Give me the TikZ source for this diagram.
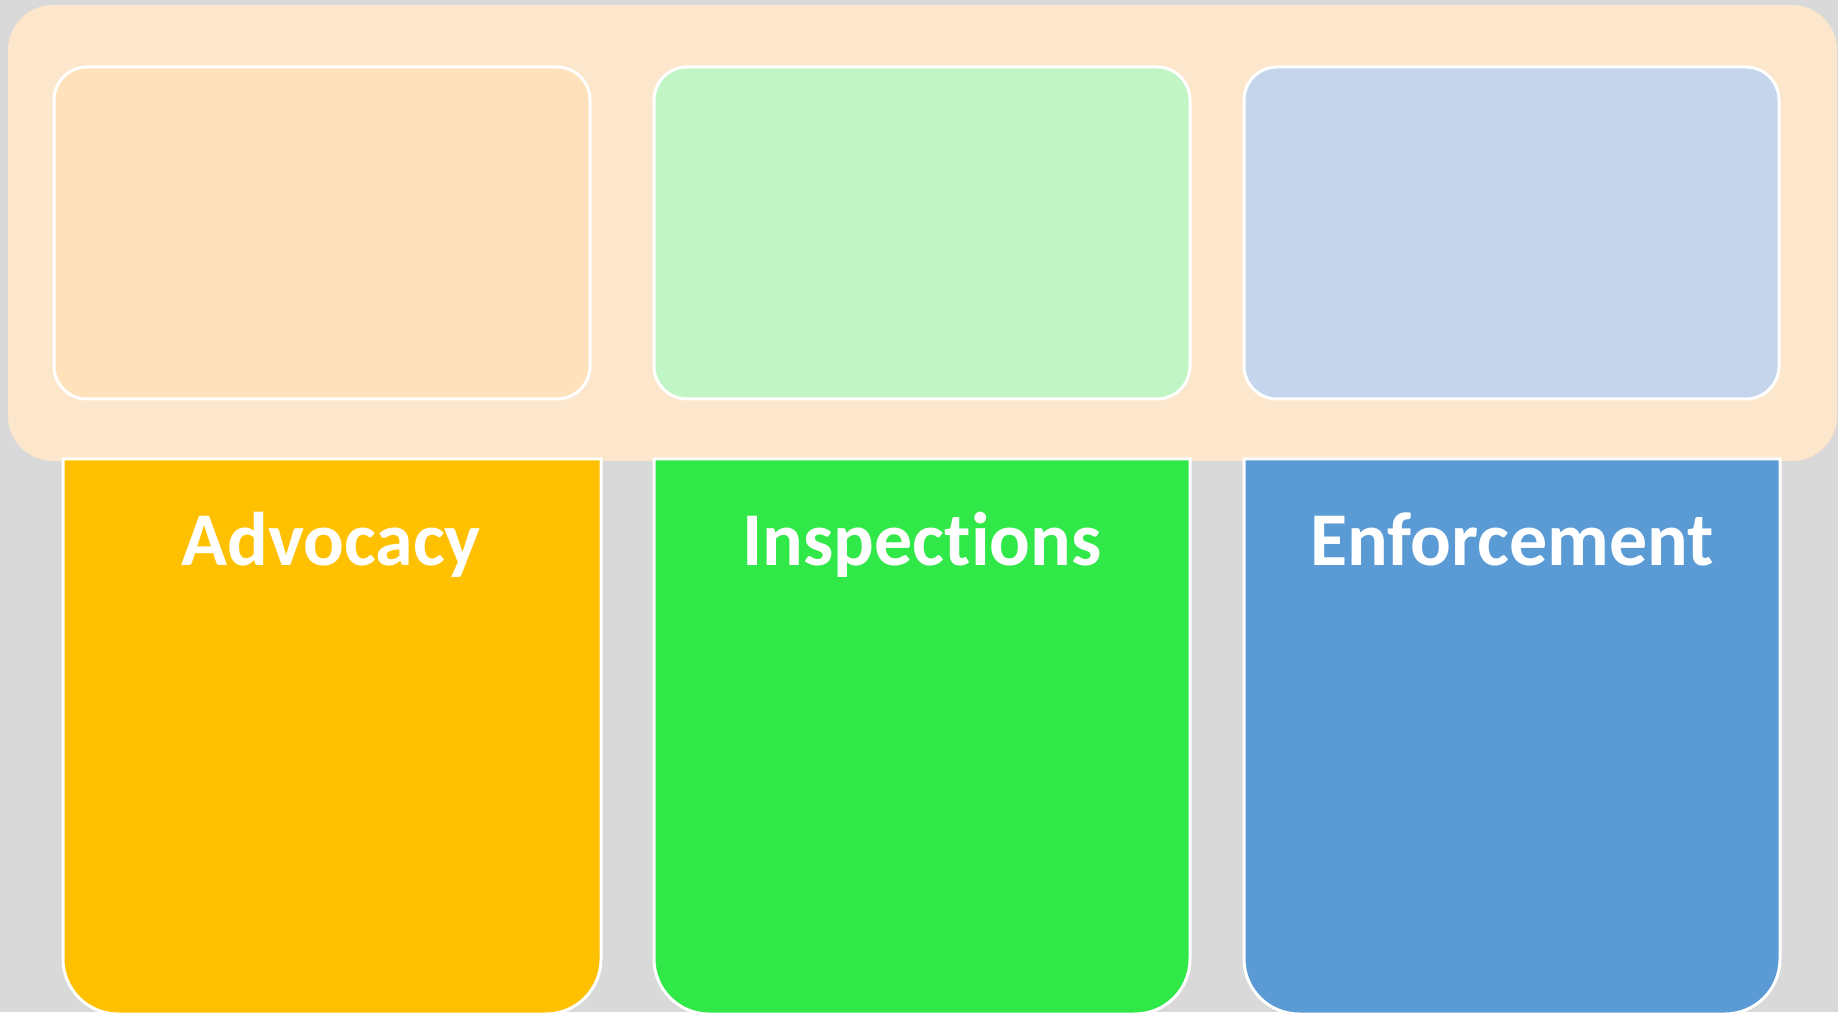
\documentclass[tikz,border=0pt]{standalone}
\usepackage{fontspec}
\setmainfont{Carlito}[Ligatures={NoCommon,NoContextual}]
\definecolor{canvas}{HTML}{D9D9D9}
\definecolor{panel}{HTML}{FCE6CC}
\definecolor{softA}{HTML}{FFE1BC}
\definecolor{softB}{HTML}{C2F5C6}
\definecolor{softC}{HTML}{C5D6EC}
\definecolor{strongA}{HTML}{FFC000}
\definecolor{strongB}{HTML}{30E847}
\definecolor{strongC}{HTML}{5B9BD5}
\tikzset{
  softbox/.style={draw=white, line width=3bp, rounded corners=33bp},
  title/.style={text=white, font=\bfseries\fontsize{76bp}{84bp}\selectfont, anchor=base, inner sep=0pt},
}
% column with square top and rounded bottom corners
\newcommand{\pillarbox}[3]{%
  \draw[draw=white, line width=3bp, fill=#3]
    (#1,553) -- (#1,-2+55) arc[start angle=180, end angle=270, radius=55]
    -- (#2-55,-2) arc[start angle=270, end angle=360, radius=55]
    -- (#2,553) -- cycle;}
\begin{document}
\begin{tikzpicture}[x=1bp, y=1bp]
  \useasboundingbox (0,0) rectangle (1838,1012);
  \clip (0,0) rectangle (1838,1012);
  \fill[canvas] (0,0) rectangle (1838,1012);
  % header panel
  \fill[panel, rounded corners=45bp] (8,551) rectangle (1837,1007);
  % upper boxes
  \draw[softbox, fill=softA] (54,613) rectangle (590,945);
  \draw[softbox, fill=softB] (654,613) rectangle (1190,945);
  \draw[softbox, fill=softC] (1244,613) rectangle (1779,945);
  % lower columns
  \pillarbox{63}{601}{strongA}
  \pillarbox{654}{1190}{strongB}
  \pillarbox{1244}{1780}{strongC}
  % titles
  \node[title] (adv) at (331,446) {Advocacy};
  \node[title] (insp) at (922,446) {Inspections};
  \node[title] (enf) at (1512,446) {Enforcement};
\end{tikzpicture}
\end{document}
